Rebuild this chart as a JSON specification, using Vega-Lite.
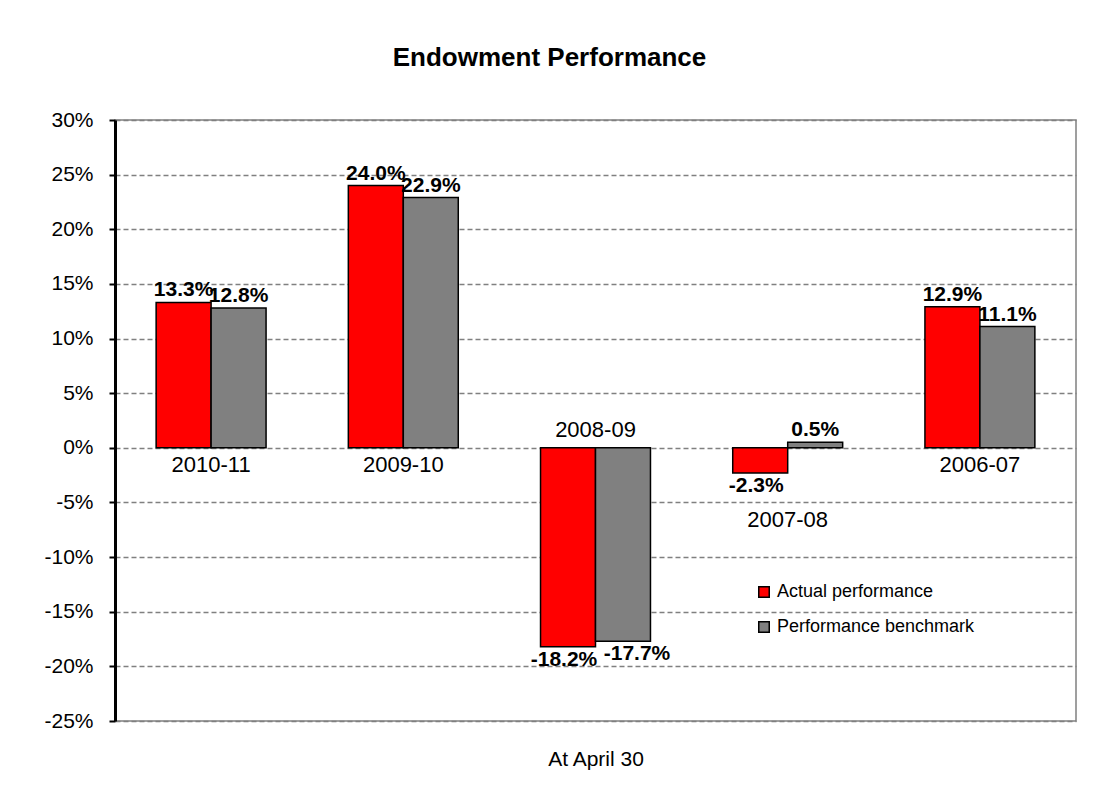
{
  "$schema": "https://vega.github.io/schema/vega-lite/v6.json",
  "width": 961,
  "height": 601,
  "autosize": {"type": "none"},
  "padding": {"left": 115, "top": 120, "right": 26, "bottom": 84},
  "background": "white",
  "title": {
    "text": "Endowment Performance",
    "font": "Liberation Sans",
    "fontSize": 26,
    "fontWeight": "bold",
    "color": "black",
    "anchor": "middle",
    "dx": -46,
    "offset": 38
  },
  "config": {
    "locale": {"number": {"decimal": ".", "thousands": ",", "grouping": [3], "currency": ["$", ""], "minus": "-"}},
    "font": "Liberation Sans",
    "view": {"stroke": "#808080", "strokeWidth": 1.5}
  },
  "data": {
    "values": [
      {"year": "2010-11", "series": "Actual performance", "value": 0.133},
      {"year": "2010-11", "series": "Performance benchmark", "value": 0.128},
      {"year": "2009-10", "series": "Actual performance", "value": 0.240},
      {"year": "2009-10", "series": "Performance benchmark", "value": 0.229},
      {"year": "2008-09", "series": "Actual performance", "value": -0.182},
      {"year": "2008-09", "series": "Performance benchmark", "value": -0.177},
      {"year": "2007-08", "series": "Actual performance", "value": -0.023},
      {"year": "2007-08", "series": "Performance benchmark", "value": 0.005},
      {"year": "2006-07", "series": "Actual performance", "value": 0.129},
      {"year": "2006-07", "series": "Performance benchmark", "value": 0.111}
    ]
  },
  "encoding": {
    "x": {
      "field": "year",
      "type": "nominal",
      "sort": ["2010-11", "2009-10", "2008-09", "2007-08", "2006-07"],
      "scale": {"paddingInner": 0.428, "paddingOuter": 0.214},
      "axis": {
        "title": "At April 30",
        "titleFont": "Liberation Sans",
        "titleFontSize": 21,
        "titleFontWeight": "normal",
        "titleColor": "black",
        "titlePadding": 27,
        "labels": false,
        "ticks": false,
        "domain": false,
        "grid": false
      }
    }
  },
  "layer": [
    {
      "mark": {"type": "bar", "stroke": "black", "strokeWidth": 1.5},
      "encoding": {
        "xOffset": {"field": "series", "type": "nominal", "sort": ["Actual performance", "Performance benchmark"]},
        "y": {
          "field": "value",
          "type": "quantitative",
          "scale": {"domain": [-0.25, 0.3], "nice": false, "zero": false},
          "axis": {
            "title": null,
            "values": [-0.25, -0.2, -0.15, -0.1, -0.05, 0, 0.05, 0.1, 0.15, 0.2, 0.25, 0.3],
            "format": ".0%",
            "labelFont": "Liberation Sans",
            "labelFontSize": 21,
            "labelColor": "black",
            "labelPadding": 16,
            "domainColor": "black",
            "domainWidth": 3,
            "tickColor": "black",
            "tickWidth": 2,
            "tickSize": 6,
            "grid": true,
            "gridColor": "#808080",
            "gridDash": [5, 3],
            "gridWidth": 1.5
          }
        },
        "color": {
          "field": "series",
          "type": "nominal",
          "scale": {"domain": ["Actual performance", "Performance benchmark"], "range": ["#FF0000", "#808080"]},
          "legend": {
            "title": null,
            "orient": "none",
            "legendX": 640,
            "legendY": 463,
            "symbolType": "square",
            "symbolSize": 110,
            "symbolStrokeColor": "black",
            "symbolStrokeWidth": 1.5,
            "labelFont": "Liberation Sans",
            "labelFontSize": 18,
            "labelColor": "black",
            "labelOffset": 4,
            "labelLimit": 0,
            "rowPadding": 17
          }
        }
      }
    },
    {
      "transform": [{"filter": "datum.value >= 0"}],
      "mark": {"type": "text", "baseline": "bottom", "dy": -2, "fontWeight": "bold", "fontSize": 21, "font": "Liberation Sans", "color": "black"},
      "encoding": {
        "xOffset": {"field": "series", "type": "nominal", "sort": ["Actual performance", "Performance benchmark"]},
        "y": {"field": "value", "type": "quantitative"},
        "text": {"field": "value", "type": "quantitative", "format": ".1%"}
      }
    },
    {
      "transform": [{"filter": "datum.value < 0"}],
      "mark": {
        "type": "text",
        "baseline": "top",
        "dy": 2,
        "dx": {"expr": "datum.series == 'Performance benchmark' ? 14 : -4"},
        "fontWeight": "bold",
        "fontSize": 21,
        "font": "Liberation Sans",
        "color": "black"
      },
      "encoding": {
        "xOffset": {"field": "series", "type": "nominal", "sort": ["Actual performance", "Performance benchmark"]},
        "y": {"field": "value", "type": "quantitative"},
        "text": {"field": "value", "type": "quantitative", "format": ".1%"}
      }
    },
    {
      "transform": [
        {"aggregate": [{"op": "min", "field": "value", "as": "mn"}, {"op": "max", "field": "value", "as": "mx"}], "groupby": ["year"]},
        {"calculate": "datum.mx <= 0 || datum.mn >= 0 ? 0 : datum.mn", "as": "anchor"}
      ],
      "mark": {
        "type": "text",
        "baseline": "middle",
        "fontSize": 22,
        "font": "Liberation Sans",
        "color": "black",
        "dy": {"expr": "datum.mx <= 0 ? -18 : (datum.mn >= 0 ? 17 : 47)"}
      },
      "encoding": {
        "y": {"field": "anchor", "type": "quantitative"},
        "text": {"field": "year", "type": "nominal"}
      }
    }
  ]
}
